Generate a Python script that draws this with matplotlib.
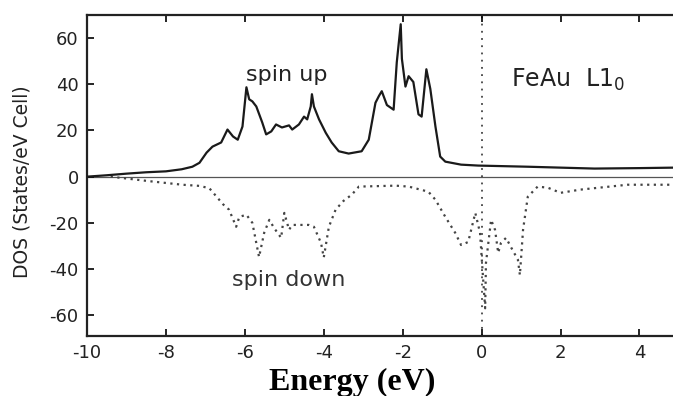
import matplotlib
matplotlib.use("Agg")
import matplotlib.pyplot as plt

plt.rcParams["axes.unicode_minus"] = False

# Spin-up DOS (solid)
energy_up = [-10.0, -9.5, -9.0, -8.5, -8.0, -7.6, -7.33, -7.15, -6.97, -6.82, -6.6, -6.44, -6.3, -6.18,
             -6.06, -5.96, -5.89, -5.81, -5.71, -5.56, -5.46, -5.33, -5.21, -5.06, -4.88, -4.8, -4.63,
             -4.5, -4.42, -4.33, -4.3, -4.25, -4.12, -3.95, -3.8, -3.62, -3.37, -3.04, -2.86, -2.69,
             -2.6, -2.53, -2.4, -2.23, -2.15, -2.05, -2.02, -1.93, -1.85, -1.73, -1.6, -1.52, -1.4,
             -1.3, -1.17, -1.05, -0.92, -0.52, -0.09, 1.17, 2.86, 4.0, 4.85]
dos_up = [0, 0.6, 1.3, 1.9, 2.3, 3.2, 4.3, 6, 10.4, 13, 14.8, 20.4, 17.4, 16,
          21.7, 38.7, 33.5, 32.6, 30.4, 23.5, 18.3, 19.6, 22.6, 21.3, 22.2, 20.4, 22.6,
          26, 24.8, 30.4, 35.7, 30.4, 24.8, 19, 14.8, 11, 10, 11, 16, 32,
          35, 37, 31, 29, 49.5, 66, 51, 39, 43.5, 41, 27, 26, 46.5,
          38, 21.7, 8.7, 6.5, 5.2, 4.8, 4.3, 3.5, 3.7, 3.9]

# Spin-down DOS (dotted)
energy_down = [-9.4, -8.9, -8.4, -7.58, -7.15, -6.9, -6.72, -6.55, -6.4, -6.22, -6.14, -5.96, -5.81,
               -5.64, -5.51, -5.38, -5.26, -5.08, -5.0, -4.88, -4.8, -4.63, -4.38, -4.25, -4.07, -4.0,
               -3.87, -3.7, -3.5, -3.29, -3.11, -2.18, -1.85, -1.35, -1.17, -0.92, -0.67, -0.52, -0.34,
               -0.16, -0.04, 0.04, 0.09, 0.11, 0.24, 0.34, 0.42, 0.49, 0.62, 0.74, 0.92, 0.97, 1.05,
               1.17, 1.42, 1.68, 2.0, 2.51, 3.7, 4.85]
dos_down = [0, -1, -2, -3.5, -4, -5, -8.6, -12, -14.3, -21.7, -17.4, -16.5, -20,
            -34.8, -24.3, -18.7, -22.2, -26.5, -15.7, -23, -20.9, -20.9, -20.9, -21.7, -28.7, -35,
            -21.7, -14.3, -10.5, -7.8, -4.3, -3.9, -4.3, -6.5, -10, -17.4, -24.3, -29.6, -28.3,
            -15.7, -24.3, -44.8, -57, -37.4, -18.7, -23, -33, -28.7, -26.5, -30.4, -36, -42.6, -23,
            -8.7, -4.3, -4.8, -7, -5.6, -3.5, -3.5]

x_ticks = [-10, -8, -6, -4, -2, 0, 2, 4]
y_ticks = [-60, -40, -20, 0, 20, 40, 60]

fig = plt.figure(figsize=(6.73, 3.96), dpi=100)
ax = fig.add_axes([87/673, 60/396, 586/673, 321/396])

ax.axhline(0, color="#555555", lw=0.9, zorder=1)
ax.axvline(0, color="#444444", lw=1.3, ls=(0, (1, 3)), zorder=1)
ax.plot(energy_up, dos_up, color="#1a1a1a", lw=1.6, zorder=3)
ax.plot(energy_down, dos_down, color="#444444", lw=1.6, ls=(0, (1, 2)), zorder=2)

ax.set_xlim(-10, 4.85)
ax.set_ylim(-69, 70)
ax.set_xticks(x_ticks)
ax.set_yticks(y_ticks)
ax.tick_params(direction="in", length=5, width=1.2, top=True, right=False,
               labelsize=13, labelcolor="#222222", pad=6)
for s in ["left", "bottom", "top"]:
    ax.spines[s].set_linewidth(1.6)
    ax.spines[s].set_color("#222222")
ax.spines["right"].set_visible(False)

ax.set_ylabel("DOS (States/eV Cell)", fontsize=13.5, color="#222222")
ax.yaxis.set_label_coords(-0.094, 0.48)

ax.text(-4.95, 41.3, "spin up", fontsize=16, ha="center", va="baseline", color="#222222")
ax.text(-4.9, -47.4, "spin down", fontsize=16, ha="center", va="baseline", color="#333333")
ax.text(0.74, 39, "FeAu  L1$_0$", fontsize=17, ha="left", va="baseline", color="#222222")

fig.text(352/673, 6/396, "Energy (eV)", family="Liberation Serif", weight="bold",
         fontsize=23, ha="center", va="baseline", color="black")

fig.savefig("out.png", dpi=100)
